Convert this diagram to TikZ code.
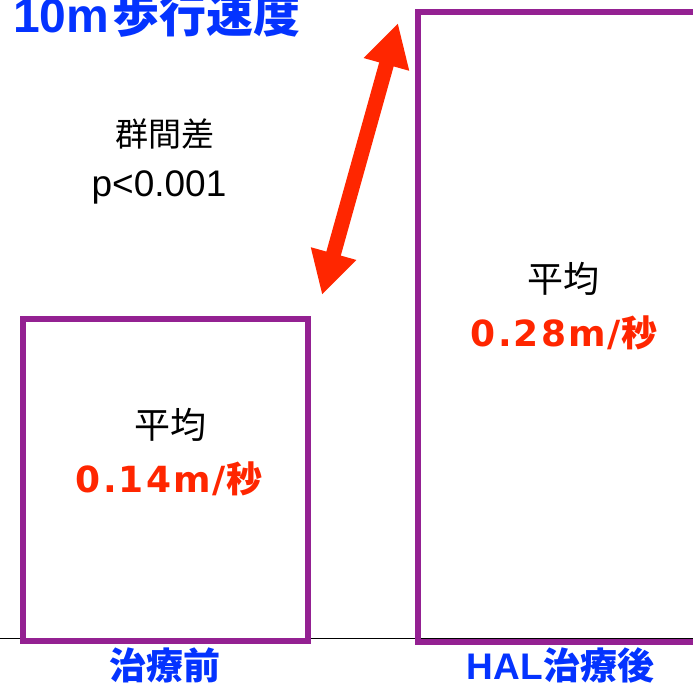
\documentclass[tikz,border=0pt]{standalone}
\usepackage{fontspec}
\setmainfont{Noto Sans CJK JP}
\newfontfamily\latfont{Liberation Sans}
\newfontfamily\valfont[LetterSpace=6]{DejaVu Sans}
\usetikzlibrary{arrows.meta}
\definecolor{boxpurple}{HTML}{942192}
\definecolor{valred}{HTML}{FF2600}
\definecolor{labblue}{HTML}{0433FF}
\tikzset{
  txt/.style={inner sep=0pt, outer sep=0pt},
  barbox/.style={draw=boxpurple, line width=6pt, inner sep=0pt, outer sep=0pt},
  bigarrow/.style={draw=valred, line width=15pt,
    {Triangle[length=43pt,width=44pt]}-{Triangle[length=43pt,width=44pt]}},
}
\begin{document}
\begin{tikzpicture}[x=1pt,y=-1pt]
\useasboundingbox (0,0) rectangle (693,684);
\clip (0,0) rectangle (693,684);
% baseline
\coordinate (bl) at (0,638);
\coordinate (br) at (693,638);
\draw[black, line width=1pt] (bl) -- (br);
% boxes
\node[barbox, minimum width=285pt, minimum height=322pt] (before) at (165.5,480) {};
\node[barbox, minimum width=302pt, minimum height=630pt] (after) at (569,327) {};
% arrow
\coordinate (alow) at (322,295);
\coordinate (ahigh) at (398,23);
\draw[bigarrow] (alow) -- (ahigh);
% title
\node[txt, anchor=base west, text=labblue, font=\bfseries\fontsize{47}{50}\selectfont] (title) at (13,33) {{\latfont\bfseries\fontsize{48}{50}\selectfont 10m}\hspace{3pt}歩行速度};
% significance
\node[txt, anchor=base, font=\fontsize{33}{36}\selectfont] (sig1) at (165,147) {群間差};
\node[txt, anchor=base, font=\fontsize{37}{40}\selectfont] (sig2) at (159,197) {{\latfont p<0.001}};
% left box texts
\node[txt, anchor=base, font=\fontsize{36}{40}\selectfont] (avgL) at (170,438) {平均};
\node[txt, anchor=base, text=valred, font=\bfseries\fontsize{36}{40}\selectfont] (valL) at (169,492) {{\valfont\bfseries 0.14m/}秒};
% right box texts
\node[txt, anchor=base, font=\fontsize{36}{40}\selectfont] (avgR) at (563,293) {平均};
\node[txt, anchor=base, text=valred, font=\bfseries\fontsize{36}{40}\selectfont] (valR) at (564,347) {{\valfont\bfseries 0.28m/}秒};
% bottom labels
\node[txt, anchor=base, text=labblue, font=\bfseries\fontsize{37}{40}\selectfont] (labL) at (165,679) {治療前};
\node[txt, anchor=base, text=labblue, font=\bfseries\fontsize{37}{40}\selectfont] (labR) at (560.5,679) {{\latfont\bfseries HAL}治療後};
\end{tikzpicture}
\end{document}
